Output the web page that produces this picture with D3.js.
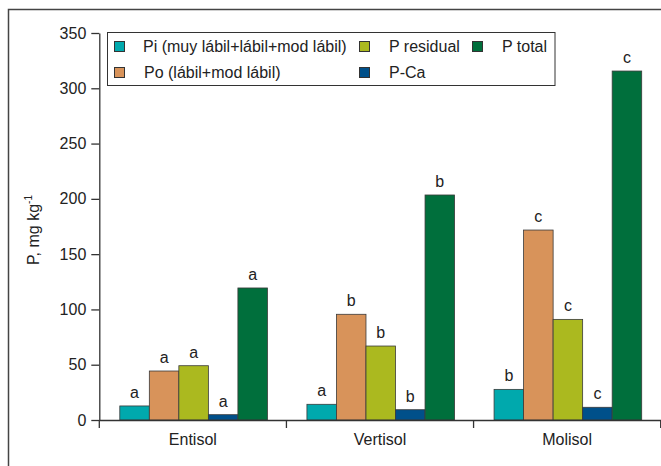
<!DOCTYPE html>
<html><head><meta charset="utf-8">
<script src="https://cdn.jsdelivr.net/npm/d3@7"></script>
<style>body{margin:0;background:#fff}svg{display:block}text{font-family:"Liberation Sans",Arial,sans-serif;fill:#222}</style>
</head><body>
<svg id="c" width="661" height="466"></svg>
<script>
const categories = ["Entisol", "Vertisol", "Molisol"];
const seriesNames = ["Pi (muy lábil+lábil+mod lábil)", "Po (lábil+mod lábil)", "P residual", "P-Ca", "P total"];
const seriesColors = ["#00a9ad", "#d8935a", "#abb91f", "#00508a", "#006f3c"];
const piValues = [12.7, 14.2, 27.7];
const poValues = [44.3, 95.6, 171.8];
const pResidualValues = [49.1, 66.9, 91.0];
const pCaValues = [4.8, 9.3, 11.5];
const pTotalValues = [119.4, 203.5, 315.6];
const piLetters = ["a", "a", "b"];
const poLetters = ["a", "b", "c"];
const pResidualLetters = ["a", "b", "c"];
const pCaLetters = ["a", "b", "c"];
const pTotalLetters = ["a", "b", "c"];
const yTicks = [0, 50, 100, 150, 200, 250, 300, 350];

const seriesValues = [piValues, poValues, pResidualValues, pCaValues, pTotalValues];
const seriesLetters = [piLetters, poLetters, pResidualLetters, pCaLetters, pTotalLetters];

const svg = d3.select("#c");
const x0 = 99.3, x1 = 660.7, yTop = 33, yBottom = 420;

// outer frame (cut at right/bottom)
svg.append("path").attr("d", `M8.5,466V9.5H661`).attr("fill", "none").attr("stroke", "#444").attr("stroke-width", 1.5);

const x = d3.scaleBand().domain(categories).range([x0, x1]).padding(0);
const xs = d3.scaleBand().domain(d3.range(seriesNames.length)).range([20.5, x.bandwidth() - 19]).padding(0);
const y = d3.scaleLinear().domain([0, 350]).range([yBottom, yTop]);

const data = [];
categories.forEach((c, ci) => seriesValues.forEach((vals, si) => data.push({c, si, v: vals[ci], l: seriesLetters[si][ci]})));

const g = svg.append("g");
g.selectAll("rect.bar").data(data).join("rect")
  .attr("class", "bar")
  .attr("x", d => x(d.c) + xs(d.si))
  .attr("y", d => y(d.v))
  .attr("width", xs.bandwidth())
  .attr("height", d => y(0) - y(d.v))
  .attr("fill", d => seriesColors[d.si])
  .attr("stroke", "#3a3a3a").attr("stroke-width", 0.8);

g.selectAll("text.lab").data(data).join("text")
  .attr("class", "lab")
  .attr("x", d => x(d.c) + xs(d.si) + xs.bandwidth() / 2)
  .attr("y", d => y(d.v) - 8)
  .attr("text-anchor", "middle")
  .attr("font-size", 16)
  .text(d => d.l);

// y axis
const ya = svg.append("g").attr("transform", `translate(${x0},0)`)
  .call(d3.axisLeft(y).tickValues(yTicks).tickSize(8).tickSizeOuter(0).tickPadding(5));
ya.select(".domain").attr("stroke", "#333").attr("stroke-width", 1.3);
ya.selectAll(".tick line").attr("stroke", "#333").attr("stroke-width", 1.3);
ya.selectAll(".tick text").attr("font-size", 16).attr("font-family", "Liberation Sans, Arial, sans-serif").attr("fill", "#222");

// x axis
const xa = svg.append("g").attr("transform", `translate(0,${yBottom})`)
  .call(d3.axisBottom(x).tickSize(0).tickSizeOuter(0).tickPadding(14));
xa.select(".domain").attr("stroke", "#333").attr("stroke-width", 1.3);
xa.selectAll(".tick text").attr("font-size", 16).attr("font-family", "Liberation Sans, Arial, sans-serif").attr("fill", "#222").attr("dy", "0.71em");
const bounds = categories.map(c => x(c)).concat([x(categories[categories.length - 1]) + x.bandwidth()]);
xa.selectAll("line.sep").data(bounds).join("line").attr("class", "sep")
  .attr("x1", d => d).attr("x2", d => d).attr("y1", 0).attr("y2", 8)
  .attr("stroke", "#333").attr("stroke-width", 1.3);

// y label
const yl = svg.append("text").attr("transform", "translate(39,265) rotate(-90)").attr("font-size", 16);
yl.append("tspan").text("P, mg kg");
yl.append("tspan").attr("font-size", 10).attr("dy", -7).text("-1");

// legend
const lg = svg.append("g");
lg.append("rect").attr("x", 107.5).attr("y", 32.5).attr("width", 447.5).attr("height", 53)
  .attr("fill", "#fff").attr("stroke", "#333").attr("stroke-width", 1);
const legendPos = [[114, 41, 143], [114, 67, 144], [359, 41, 389], [359, 67, 389], [472, 41, 502]];
const items = lg.selectAll("g.item").data(seriesNames.map((n, i) => ({n, i}))).join("g").attr("class", "item");
items.append("rect")
  .attr("x", d => legendPos[d.i][0] + 0.5).attr("y", d => legendPos[d.i][1] + 0.5)
  .attr("width", 10).attr("height", 10)
  .attr("fill", d => seriesColors[d.i]).attr("stroke", "#333").attr("stroke-width", 1);
items.append("text")
  .attr("x", d => legendPos[d.i][2]).attr("y", d => legendPos[d.i][1] + 11)
  .attr("font-size", 16).text(d => d.n);
</script>
</body></html>
